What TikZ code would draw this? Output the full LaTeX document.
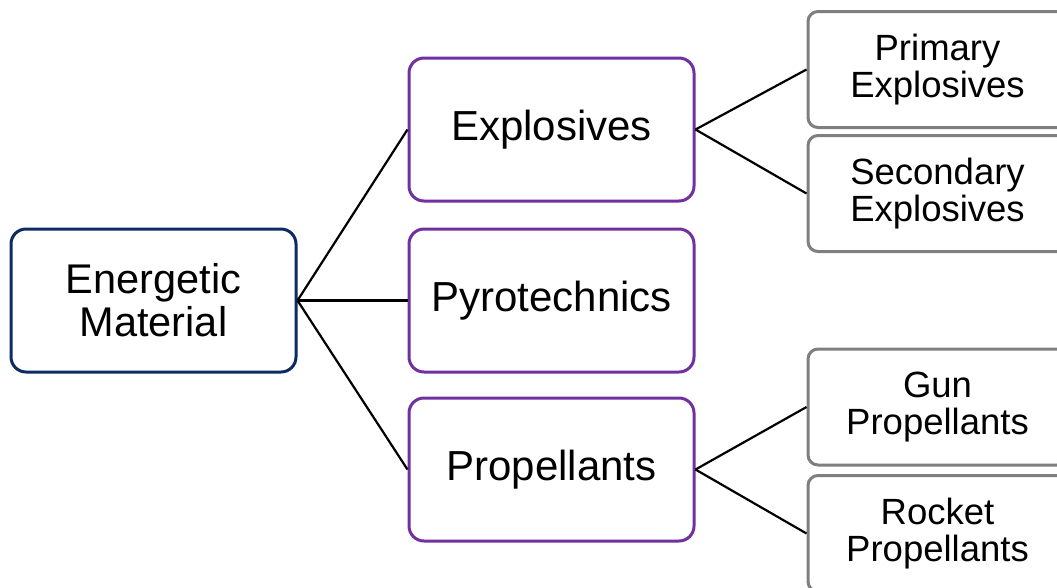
\documentclass[tikz,border=0pt]{standalone}
\usepackage{fontspec}
\setmainfont{Liberation Sans}
\definecolor{navy}{HTML}{0E2A62}
\definecolor{purp}{HTML}{7030A0}
\definecolor{grayb}{HTML}{7F7F7F}
\begin{document}
\begin{tikzpicture}[x=1pt,y=-1pt,
  base/.style={rectangle,fill=white,inner sep=0pt,align=center,line width=3pt},
  rootbox/.style={base,draw=navy,rounded corners=15pt,minimum width=285pt,minimum height=143pt,font=\fontsize{41.5}{43}\selectfont},
  midbox/.style={base,draw=purp,rounded corners=15pt,minimum width=285pt,minimum height=143pt,font=\fontsize{42}{43}\selectfont},
  leafbox/.style={base,draw=grayb,rounded corners=10pt,minimum width=259pt,minimum height=116pt,font=\fontsize{36.5}{37}\selectfont},
  conn/.style={draw=black,line width=2.2pt}]
\useasboundingbox (0,0) rectangle (1057,587);
\node[rootbox] (root) at (153.5,300.5) {Energetic\\Material};
\node[midbox] (expl) at (551.5,129.5) {Explosives};
\node[midbox] (pyro) at (551.5,300.5) {Pyrotechnics};
\node[midbox] (prop) at (551.5,469.5) {Propellants};
\node[leafbox] (prim) at (937.5,69.5) {Primary\\Explosives};
\node[leafbox] (sec) at (937.5,193.5) {Secondary\\Explosives};
\node[leafbox] (gun) at (937.5,407) {Gun\\Propellants};
\node[leafbox] (rock) at (937.5,533.5) {Rocket\\Propellants};
\draw[conn] (root.east) -- (expl.west);
\draw[conn] (root.east) -- (pyro.west);
\draw[conn] (root.east) -- (prop.west);
\draw[conn] (expl.east) -- (prim.west);
\draw[conn] (expl.east) -- (sec.west);
\draw[conn] (prop.east) -- (gun.west);
\draw[conn] (prop.east) -- (rock.west);
\end{tikzpicture}
\end{document}
